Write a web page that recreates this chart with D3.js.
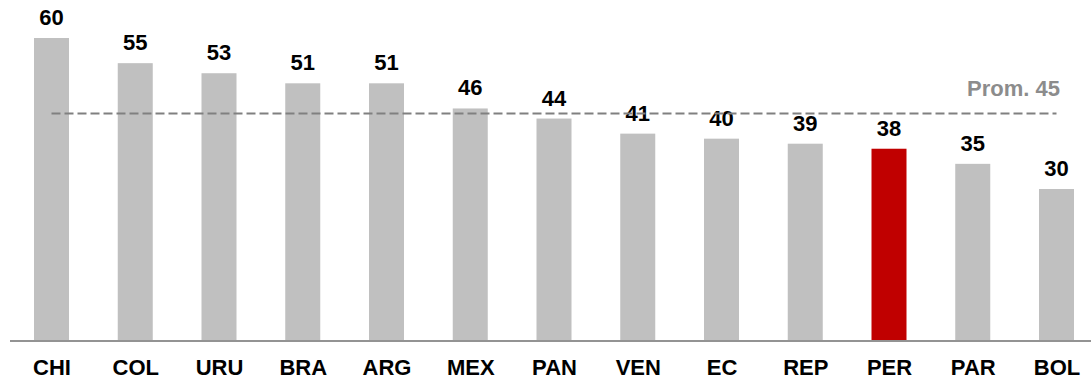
<!DOCTYPE html>
<html>
<head>
<meta charset="utf-8">
<script src="https://cdn.jsdelivr.net/npm/d3@7"></script>
<style>
  html, body { margin: 0; padding: 0; background: #fff; }
  svg { display: block; }
  text { font-family: "Liberation Sans", Arial, Helvetica, sans-serif; font-weight: bold; }
</style>
</head>
<body>
<svg id="chart" width="1091" height="380"></svg>
<script>
// Country codes and their index values
const countries = ["CHI", "COL", "URU", "BRA", "ARG", "MEX", "PAN", "VEN", "EC", "REP", "PER", "PAR", "BOL"];
const values = [60, 55, 53, 51, 51, 46, 44, 41, 40, 39, 38, 35, 30];
const highlight = ["PER"];
const average = 45;
const averageLabel = "Prom. 45";

const svg = d3.select("#chart");

const baseY = 340;
const barW = 35;
const fontSize = 22;

const x = d3.scalePoint()
  .domain(countries)
  .range([51.5, 1056.5]);

const y = d3.scaleLinear()
  .domain([0, 60])
  .range([baseY, 38]);

// Bars
svg.append("g")
  .selectAll("rect")
  .data(countries)
  .join("rect")
  .attr("x", d => x(d) - barW / 2)
  .attr("width", barW)
  .attr("y", (d, i) => y(values[i]))
  .attr("height", (d, i) => y(0) - y(values[i]))
  .attr("fill", d => highlight.includes(d) ? "#c00000" : "#c0c0c0");

// Value labels above bars
svg.append("g")
  .selectAll("text")
  .data(countries)
  .join("text")
  .attr("x", d => x(d))
  .attr("y", (d, i) => y(values[i]) - 13)
  .attr("text-anchor", "middle")
  .attr("font-size", fontSize)
  .attr("fill", "#000")
  .text((d, i) => values[i]);

// Baseline
svg.append("line")
  .attr("x1", 10)
  .attr("x2", 1091)
  .attr("y1", y(0) + 1)
  .attr("y2", y(0) + 1)
  .attr("stroke", "#939393")
  .attr("stroke-width", 2);

// Category axis labels
const xAxis = d3.axisBottom(x).tickSize(0).tickPadding(0);
const gx = svg.append("g")
  .attr("transform", `translate(0,${baseY})`)
  .call(xAxis);
gx.select(".domain").remove();
gx.selectAll(".tick text")
  .attr("y", 35)
  .attr("dy", null)
  .attr("font-size", fontSize)
  .attr("font-family", "'Liberation Sans', Arial, Helvetica, sans-serif")
  .attr("font-weight", "bold")
  .attr("fill", "#000");

// Average reference line
svg.append("line")
  .attr("x1", x(countries[0]))
  .attr("x2", x(countries[countries.length - 1]))
  .attr("y1", y(average))
  .attr("y2", y(average))
  .attr("stroke", "#808080")
  .attr("stroke-width", 2)
  .attr("stroke-dasharray", "9,4");

svg.append("text")
  .attr("x", 1060)
  .attr("y", 96)
  .attr("text-anchor", "end")
  .attr("font-size", fontSize)
  .attr("fill", "#8c8c8c")
  .text(averageLabel);
</script>
</body>
</html>
